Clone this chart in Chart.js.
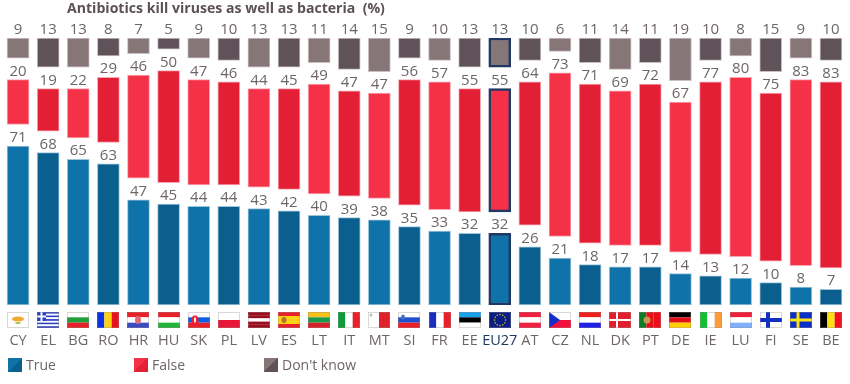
<!DOCTYPE html>
<html>
<head>
<meta charset="utf-8">
<script src="https://cdn.jsdelivr.net/npm/chart.js@4"></script>
<style>
  html, body { margin: 0; background: #fff; }
  #wrap { position: relative; width: 850px; height: 384px; overflow: hidden; font-family: "Open Sans", sans-serif; }
  #title { position: absolute; left: 67px; top: -2px; font-size: 14.1px; font-weight: 700; color: #5b5158; white-space: pre; }
  .leg { position: absolute; top: 358px; height: 14px; font-size: 14px; line-height: 14px; color: #6d6568; padding-left: 18px; white-space: nowrap; }
  .leg i { position: absolute; left: 0; top: 0; width: 14px; height: 14px; }
</style>
</head>
<body>
<div id="wrap">
  <canvas id="c" width="850" height="384"></canvas>
  <div id="title">Antibiotics kill viruses as well as bacteria  (%)</div>
  <div class="leg" style="left:8px"><i style="background:linear-gradient(135deg,#0f72a8 50%,#0b5f8e 50%)"></i>True</div>
  <div class="leg" style="left:134px"><i style="background:linear-gradient(135deg,#f53147 50%,#e31f35 50%)"></i>False</div>
  <div class="leg" style="left:264px"><i style="background:linear-gradient(135deg,#877678 50%,#5f5359 50%)"></i>Don't know</div>
</div>
<script>
'use strict';

const countries = ['CY','EL','BG','RO','HR','HU','SK','PL','LV','ES','LT','IT','MT','SI','FR','EE','EU27','AT','CZ','NL','DK','PT','DE','IE','LU','FI','SE','BE'];
const trueVals  = [71,68,65,63,47,45,44,44,43,42,40,39,38,35,33,32,32,26,21,18,17,17,14,13,12,10,8,7];
const falseVals = [20,19,22,29,46,50,47,46,44,45,49,47,47,56,57,55,55,64,73,71,69,72,67,77,80,75,83,83];
const dkVals    = [9,13,13,8,7,5,9,10,13,13,11,14,15,9,10,13,13,10,6,11,14,11,19,10,8,15,9,10];

// white space between the three blocks, in value units
const GAP = 9.6;
const EU = countries.indexOf('EU27');

const alt = (light, dark) => c => c.dataIndex % 2 ? dark : light;
const edge = (pale) => c => c.dataIndex === EU ? '#1f3864' : pale;
const edgeW = c => c.dataIndex === EU ? 2.5 : 1;

function barSet(label, data, light, dark, pale) {
  return {
    label, data,
    backgroundColor: alt(light, dark),
    borderColor: edge(pale),
    borderWidth: edgeW,
    borderSkipped: false,
    barThickness: 22,
  };
}

// --- value labels above each block ---
const valueLabels = {
  id: 'valueLabels',
  afterDatasetsDraw(chart) {
    const ctx = chart.ctx;
    const src = [trueVals, falseVals, dkVals];
    ctx.save();
    ctx.font = '15px "Open Sans", sans-serif';
    ctx.fillStyle = '#6d6568';
    ctx.textAlign = 'center';
    ctx.textBaseline = 'alphabetic';
    src.forEach((vals, d) => {
      chart.getDatasetMeta(d).data.forEach((bar, i) => {
        ctx.fillText(vals[i], bar.x, bar.y - 4);
      });
    });
    ctx.restore();
  },
};

// --- small flags between the bars and the country codes ---
const stripesH = {
  BG: ['#fff','#1f9e3a','#e8202a'], HR: ['#e8202a','#fff','#3a4bc0'], HU: ['#e8202a','#fff','#22b33a'],
  SK: ['#fff','#0b5fe0','#e8202a'], PL: ['#fff','#e8173a'], ES: ['#e8202a','#fcd116','#fcd116','#e8202a'],
  LT: ['#fbc21a','#1a9a4a','#d8202a'], SI: ['#fff','#2050d0','#e8202a'], EE: ['#1aa0e8','#000','#fff'],
  AT: ['#f02040','#fff','#f02040'], NL: ['#f0201a','#fff','#2020e8'], DE: ['#000','#e0101a','#ffd000'],
  LU: ['#f0203a','#fff','#7fb0ff'], LV: ['#9a0e1e','#9a0e1e','#fff','#9a0e1e','#9a0e1e'],
  CY: ['#fff'], DK: ['#e0202a'], FI: ['#fff'], SE: ['#0a2fc8'], EU27: ['#0a1e80'],
  EL: ['#2a3fc0','#fff','#2a3fc0','#fff','#2a3fc0','#fff','#2a3fc0','#fff','#2a3fc0'],
  CZ: ['#fff','#f0103a'],
};
const stripesV = {
  RO: ['#0a30e8','#fcd116','#e8101a'], IT: ['#0f9a3a','#fff','#e8202a'], MT: ['#fff','#e0202a'],
  FR: ['#1a2fc0','#fff','#e8202a'], PT: ['#0f7a2a','#e8101a','#e8101a'], IE: ['#10c030','#fff','#ff9a3a'],
  BE: ['#000','#fce016','#f0101a'],
};

function drawFlag(ctx, code, x, y, w, h) {
  const hs = stripesH[code], vs = stripesV[code];
  if (hs) hs.forEach((col, i) => { ctx.fillStyle = col; ctx.fillRect(x, y + h * i / hs.length, w, h / hs.length); });
  if (vs) vs.forEach((col, i) => { ctx.fillStyle = col; ctx.fillRect(x + w * i / vs.length, y, w / vs.length, h); });

  const cross = (col, t, cx) => {
    ctx.fillStyle = col;
    ctx.fillRect(x + cx - t / 2, y, t, h);
    ctx.fillRect(x, y + h / 2 - t / 2, w, t);
  };
  const blob = (col, cx, cy, rx, ry) => {
    ctx.fillStyle = col;
    ctx.beginPath();
    ctx.ellipse(x + cx, y + cy, rx, ry, 0, 0, Math.PI * 2);
    ctx.fill();
  };
  if (code === 'CY') { blob('#f0a830', 11, 7, 6, 2.5); blob('#a8c050', 11, 11, 3, 1); }
  if (code === 'EL') {
    ctx.fillStyle = '#2a3fc0'; ctx.fillRect(x, y, 9, 9);
    ctx.fillStyle = '#fff'; ctx.fillRect(x + 3.5, y, 2, 9); ctx.fillRect(x, y + 3.5, 9, 2);
  }
  if (code === 'HR') { blob('#e06a70', 11, 8, 3, 4); }
  if (code === 'SK') { blob('#e8202a', 7, 8, 3.5, 4.5); blob('#fff', 7, 8, 1, 3); }
  if (code === 'ES') { blob('#b8702a', 6, 8, 2.5, 3); }
  if (code === 'MT') { blob('#bbb', 3, 3, 1.5, 1.5); }
  if (code === 'SI') { blob('#4a70c0', 5, 5, 2, 2.5); }
  if (code === 'DK') cross('#fff', 2, 8);
  if (code === 'FI') cross('#1030c0', 4, 8);
  if (code === 'SE') cross('#fce016', 3, 8);
  if (code === 'PT') blob('#c89a50', 8, 8, 3.5, 3.5);
  if (code === 'CZ') {
    ctx.fillStyle = '#1030c8';
    ctx.beginPath(); ctx.moveTo(x, y); ctx.lineTo(x + 11, y + h / 2); ctx.lineTo(x, y + h); ctx.fill();
  }
  if (code === 'EU27') {
    ctx.fillStyle = '#d8c030';
    for (let a = 0; a < 12; a++) {
      const t = a * Math.PI / 6;
      ctx.fillRect(x + 11 + Math.cos(t) * 5.5 - 0.6, y + 8 + Math.sin(t) * 5.5 - 0.6, 1.3, 1.3);
    }
  }
  ctx.strokeStyle = 'rgba(150,140,140,0.35)';
  ctx.lineWidth = 1;
  ctx.strokeRect(x + 0.5, y + 0.5, w - 1, h - 1);
}

const flags = {
  id: 'flags',
  afterDraw(chart) {
    const sx = chart.scales.x;
    countries.forEach((code, i) => {
      drawFlag(chart.ctx, code, Math.round(sx.getPixelForTick(i)) - 11, 312, 22, 16);
    });
  },
};

new Chart(document.getElementById('c').getContext('2d'), {
  type: 'bar',
  data: {
    labels: countries,
    datasets: [
      barSet('True', trueVals.map(v => [0, v]), '#0f72a8', '#0b5f8e', '#9cc4da'),
      barSet('False', falseVals.map((v, i) => [trueVals[i] + GAP, trueVals[i] + GAP + v]), '#f53147', '#e31f35', '#f8a8b2'),
      barSet("Don't know", dkVals.map((v, i) => {
        const start = trueVals[i] + falseVals[i] + GAP * 2;
        return [start, start + v];
      }), '#877678', '#5f5359', '#c9bfc2'),
    ],
  },
  plugins: [valueLabels, flags],
  options: {
    responsive: false,
    animation: false,
    layout: { padding: { left: 3, right: 4, top: 38, bottom: 0 } },
    plugins: { legend: { display: false }, title: { display: false }, tooltip: { enabled: false } },
    scales: {
      y: { display: false, min: 0, max: 100 + GAP * 2 },
      x: {
        stacked: true,
        grid: { display: false },
        border: { display: false },
        // tick padding also widens the side margins, so drop those
        afterFit: s => { s.height = 79; s.paddingLeft = 0; s.paddingRight = 0; },
        ticks: {
          padding: 19,
          maxRotation: 0,
          autoSkip: false,
          font: { family: '"Open Sans", sans-serif', size: 14.5 },
          color: c => c.index === EU ? '#1f3864' : '#6d6568',
        },
      },
    },
  },
});
</script>
</body>
</html>
